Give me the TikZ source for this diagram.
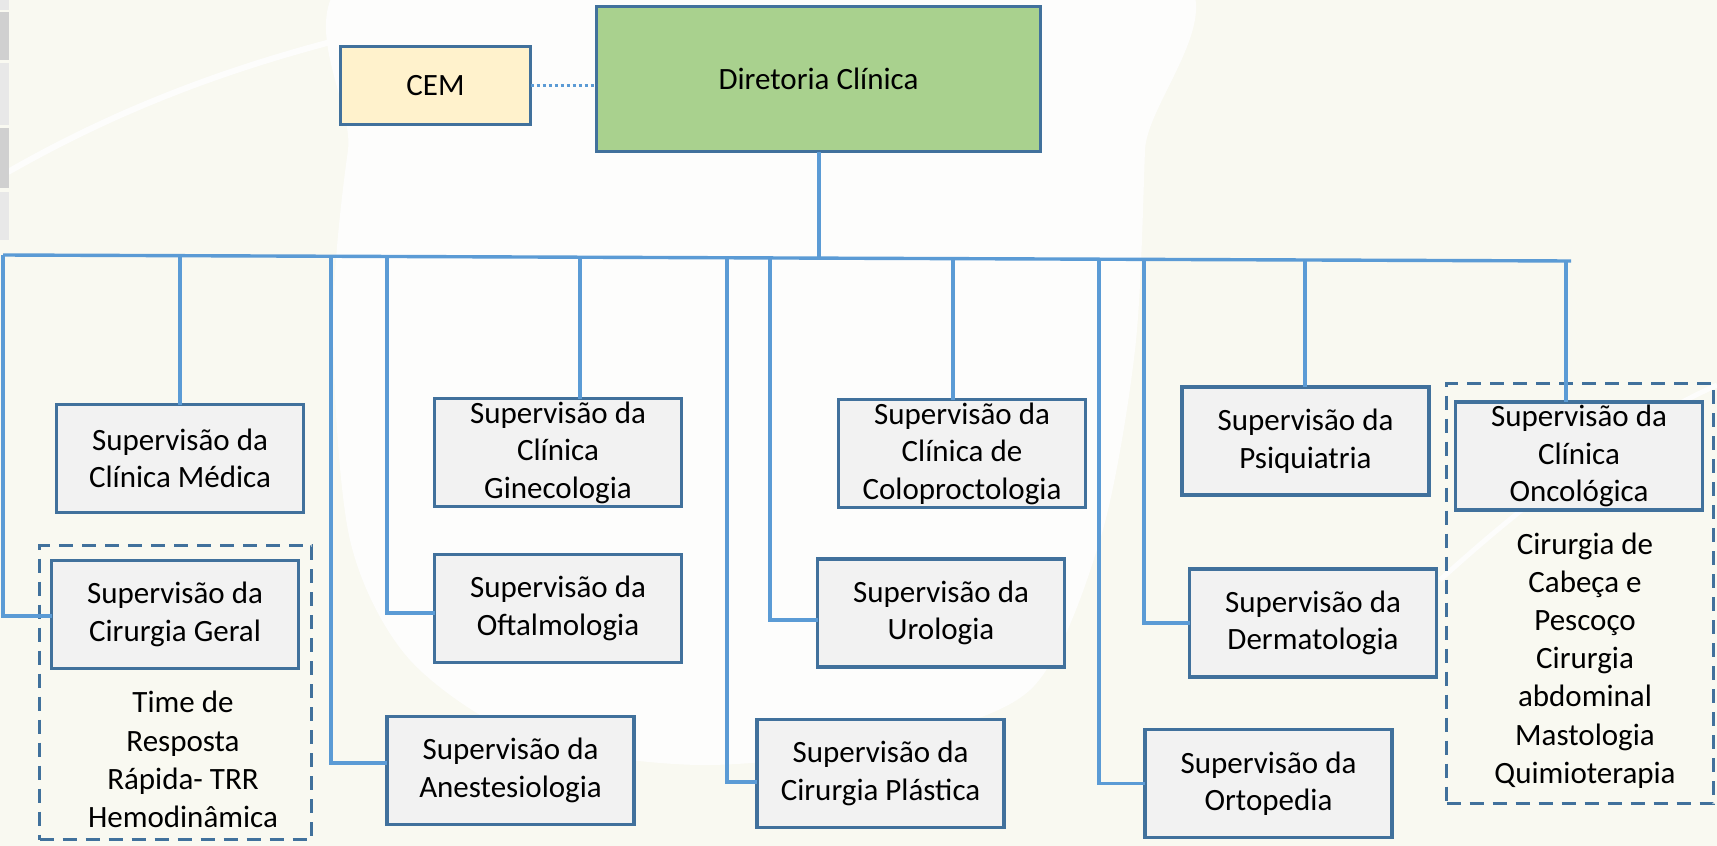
\documentclass[tikz,border=0pt]{standalone}
\usepackage{fontspec}
\setmainfont{Carlito}
\usetikzlibrary{positioning}

\definecolor{boxblue}{HTML}{41719C}
\definecolor{linkblue}{HTML}{5B9BD5}
\definecolor{boxgrey}{HTML}{F2F2F2}
\definecolor{dirgreen}{HTML}{A9D18E}
\definecolor{cemyellow}{HTML}{FFF2CC}
\definecolor{papercream}{HTML}{F9F9F1}
\definecolor{paperwhite}{HTML}{FDFDFC}
\definecolor{barlight}{HTML}{E8E8E8}
\definecolor{bardark}{HTML}{D0D0D0}

\begin{document}
\begin{tikzpicture}[x=1pt,y=-1pt,
 base node/.style={draw=boxblue,line width=3.5pt,inner sep=0pt,outer sep=0pt,
  align=center,font=\fontsize{31}{37.5}\selectfont},
 sup node/.style={base node,fill=boxgrey,minimum width=247,minimum height=108},
 group box/.style={draw=boxblue,line width=3.5pt,dash pattern=on 14pt off 9pt,
  inner sep=0pt,outer sep=0pt},
 text node/.style={inner sep=0pt,align=center,font=\fontsize{31}{38.2}\selectfont},
 conn/.style={linkblue,line width=3.4pt}]

  \useasboundingbox (0,0) rectangle (1717,846);

  % background
  \begin{scope}
  \clip (0,0) rectangle (1717,846);
  \fill[papercream] (0,0) rectangle (1717,846);
  \fill[paperwhite] plot[smooth cycle] coordinates {(385,-40) (348,150) (333,330)
   (350,540) (410,660) (530,740) (700,765) (880,745) (1030,690) (1100,540)
   (1135,350) (1145,150) (1150,-40)};
  \draw[paperwhite,line width=6pt] (8,172) .. controls (160,85) and (320,35) .. (530,0);
  \draw[paperwhite,line width=5pt] (1440,580) .. controls (1550,480) and (1640,420) .. (1717,385);
  \foreach \a/\b/\c in {0/10/barlight, 12/60/bardark, 63/125/barlight, 128/188/bardark, 192/240/barlight} {
   \fill[\c] (0,\a) rectangle (9,\b);}
  \end{scope}

  \node[base node,fill=dirgreen,minimum width=444,minimum height=145] (dir) at (818.5,79) {Diretoria Clínica};
  \node[base node,fill=cemyellow,minimum width=190,minimum height=78] (cem) at (435.5,85.5) {CEM};

  \node[group box,minimum width=272,minimum height=294] (geral grp) at (175.5,692.5) {};
  \node[group box,minimum width=267,minimum height=420] (onco grp) at (1580,593.5) {};

  % bus
  \coordinate (bus top) at (819,258);
  \coordinate (b1) at (3,255);
  \coordinate (b2) at (180,255.7);
  \coordinate (b3) at (331,256.3);
  \coordinate (b4) at (387,256.5);
  \coordinate (b5) at (580,257.2);
  \coordinate (b6) at (727,257.8);
  \coordinate (b7) at (770,258);
  \coordinate (b8) at (953,258.6);
  \coordinate (b9) at (1099,259.2);
  \coordinate (b10) at (1144,259.4);
  \coordinate (b11) at (1305,260);
  \coordinate (b12) at (1566,261);
  \coordinate (bus end) at (1571,261);

  \node[sup node] (medica) at (180,458.5) {Supervisão da\\Clínica Médica};
  \node[sup node] (geral) at (175,614.5) {Supervisão da\\Cirurgia Geral};
  \node[sup node] (gineco) at (558,452.5) {Supervisão da\\Clínica\\Ginecologia};
  \node[sup node] (oftalmo) [below=48pt of gineco] {Supervisão da\\Oftalmologia};
  \node[sup node] (anest) at (510.5,770.5) {Supervisão da\\Anestesiologia};
  \node[sup node] (colo) at (962,453.5) {Supervisão da\\Clínica de\\Coloproctologia};
  \node[sup node] (uro) at (941,613) {Supervisão da\\Urologia};
  \node[sup node] (plastica) at (880.5,773.5) {Supervisão da\\Cirurgia Plástica};
  \node[sup node] (psiq) at (1305.5,441) {Supervisão da\\Psiquiatria};
  \node[sup node] (derma) at (1313,623) {Supervisão da\\Dermatologia};
  \node[sup node] (orto) at (1268.5,783.5) {Supervisão da\\Ortopedia};
  \node[sup node] (onco) at (1579,456) {Supervisão da\\Clínica\\Oncológica};

  \node[text node] (trr) at (183,759.5) {Time de\\Resposta\\Rápida- TRR\\Hemodinâmica};
  \node[text node] (onco list) at (1585,660.5) {Cirurgia de\\Cabeça e\\Pescoço\\Cirurgia\\abdominal\\Mastologia\\Quimioterapia};

  % connectors
  \draw[conn,line width=3.5pt,dash pattern=on 3.5pt off 2.5pt] (cem.east) -- (cem.east -| dir.west);
  \draw[conn] (dir.south -| bus top) -- (bus top);
  \draw[conn] (b1) -- (bus end);

  \foreach \b/\n in {b2/medica, b5/gineco, b8/colo, b11/psiq, b12/onco} {
   \draw[conn] (\b) -- (\b |- \n.north);}

  \foreach \b/\n/\off in {b1/geral/-1.5, b3/anest/7.5, b4/oftalmo/-4.5, b6/plastica/-8.5,
   b7/uro/-7, b9/orto/0, b10/derma/0} {
   \draw[conn] (\b) |- ([yshift=\off pt]\n.west);}
\end{tikzpicture}
\end{document}
